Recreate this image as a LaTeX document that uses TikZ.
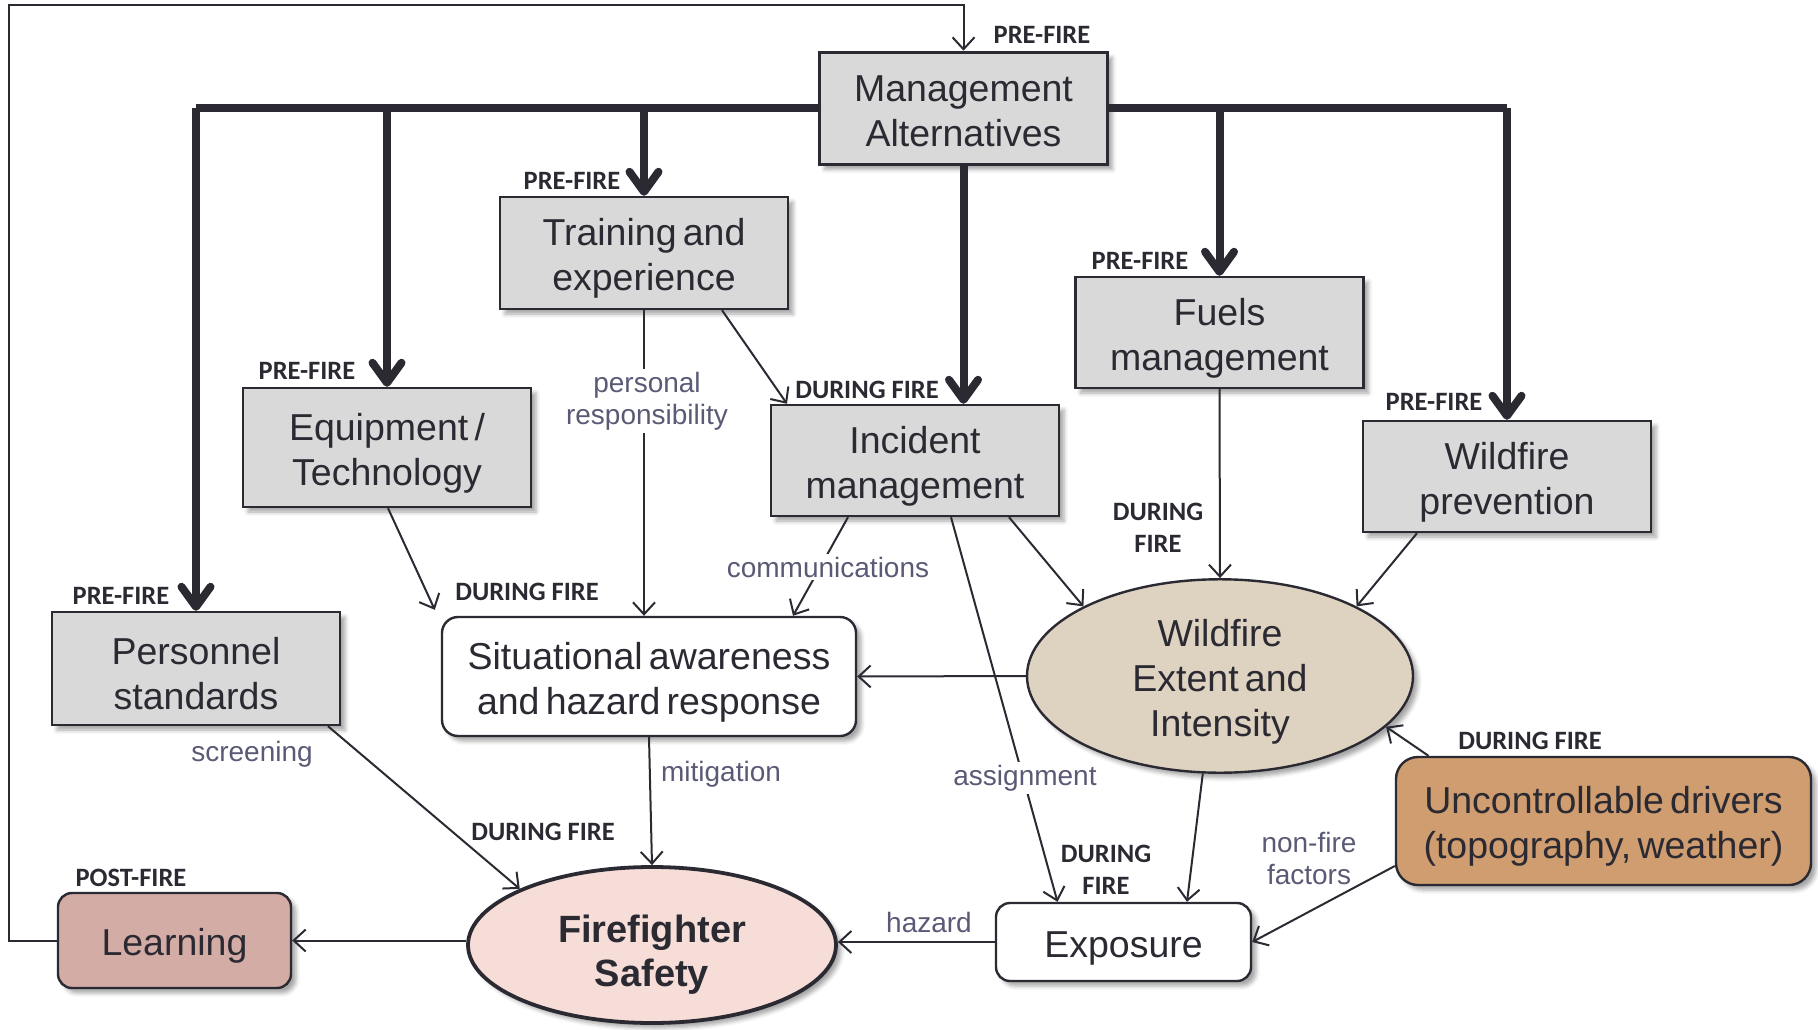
\documentclass[tikz,border=0pt]{standalone}
\usepackage{fontspec}
\setmainfont{Liberation Sans}[WordSpace=0.6]
\newfontfamily\tagfont{Carlito}
\usetikzlibrary{arrows.meta,shapes.geometric,shadows.blur,calc}

\definecolor{ink}{RGB}{43,42,51}
\definecolor{boxgray}{RGB}{217,217,217}
\definecolor{fireclr}{RGB}{222,210,192}
\definecolor{drivers}{RGB}{207,157,111}
\definecolor{learnclr}{RGB}{212,172,166}
\definecolor{safetyclr}{RGB}{246,221,215}
\definecolor{lblgray}{RGB}{90,90,118}

% a tall strut on the first line sets a text block a little lower in its shape
\newcommand{\tallstrut}[1][38pt]{\rule{0pt}{#1}}

\begin{document}
\begin{tikzpicture}[x=1pt,y=-1pt,
  shade/.style={blur shadow={shadow xshift=5pt,shadow yshift=-5pt,shadow blur radius=4pt,shadow opacity=35}},
  box/.style={shade,draw=ink,line width=2.4pt,fill=boxgray,inner sep=0pt,text=ink,align=center,
    font=\fontsize{37.5}{45}\selectfont,minimum width=288pt,minimum height=112pt},
  rbox/.style={box,rounded corners=16pt,fill=white},
  oval/.style={shade,ellipse,draw=ink,line width=2.4pt,inner sep=0pt,text=ink,align=center,
    font=\fontsize{37.5}{45}\selectfont},
  tag/.style={font=\tagfont\bfseries\fontsize{26.5}{32}\selectfont,text=ink,align=center,inner sep=0pt},
  clab/.style={font=\fontsize{28}{32}\selectfont,text=lblgray,align=center,inner sep=3pt},
  feed/.style={draw=ink,line width=2pt,-{Straight Barb[length=12pt,width=22pt]}},
  main/.style={draw=ink,line width=8pt,line join=miter,-{Straight Barb[length=20pt,width=29pt,round]}},
  trunk/.style={draw=ink,line width=8pt,line join=miter}]

\useasboundingbox (0,0) rectangle (1818,1030);

% ---- boxes ----
\node[box,line width=3.5pt] (ma) at (963.5,108.5) {\tallstrut[32pt]Management\\Alternatives};
\node[box] (train) at (644,253) {\tallstrut Training and\\experience};
\node[box,minimum height=119pt] (equip) at (387,447.5) {\tallstrut Equipment\,/\\Technology};
\node[box,minimum height=113pt] (pers) at (196,668.5) {\tallstrut Personnel\\standards};
\node[box,minimum height=111pt] (inc) at (915,460.5) {\tallstrut Incident\\management};
\node[box,minimum height=111pt] (fuels) at (1219.5,332.5) {\tallstrut Fuels\\management};
\node[box,minimum height=111pt] (wp) at (1507,476.5) {\tallstrut Wildfire\\prevention};
\node[rbox,minimum width=414pt,minimum height=119pt] (sa) at (649,676.5)
  {\tallstrut Situational awareness\\and hazard response};
\node[oval,fill=fireclr,minimum width=386pt,minimum height=192pt] (wf) at (1220,676)
  {\tallstrut[39pt]Wildfire\\Extent and\\Intensity};
\node[rbox,fill=drivers,rounded corners=22pt,minimum width=415pt,minimum height=128pt] (unc)
  at (1603.5,821) {\tallstrut Uncontrollable drivers\\(topography, weather)};
\node[rbox,minimum width=255pt,minimum height=78pt,rounded corners=14pt] (exp) at (1123.5,942)
  {\tallstrut Exposure};
\node[oval,fill=safetyclr,line width=3.8pt,minimum width=368pt,minimum height=156pt,
  font=\bfseries\fontsize{38}{44}\selectfont] (ff) at (652,945) {\tallstrut[47pt]Firefighter\\Safety};
\node[rbox,fill=learnclr,minimum width=233pt,minimum height=95pt,rounded corners=14pt] (learn)
  at (174.5,940.5) {\tallstrut Learning};

% ---- management alternatives feeding each lever ----
\draw[trunk] (ma.west) -- (ma.west -| pers.north);
\draw[trunk] (ma.east) -- (ma.east -| wp.north);
\draw[main] (ma.west -| pers.north) -- (pers.north);
\draw[main] (ma.west -| equip.north) -- (equip.north);
\draw[main] (ma.west -| train.north) -- (train.north);
\draw[main] (ma.south) -- (ma.south |- inc.north);
\draw[main] (ma.east -| fuels.north) -- (fuels.north);
\draw[main] (ma.east -| wp.north) -- (wp.north);

% ---- feedback loop from learning ----
\coordinate (loop) at (9,5);
\draw[feed] (learn.west) -| (loop) -| (ma.north);

% ---- causal links ----
\draw[feed] (train.south) -- (train.south |- sa.north);
\draw[feed] ([xshift=78pt]train.south) -- ([xshift=-128pt]inc.north);
\coordinate (saentry) at ([xshift=-6pt,yshift=6pt]sa.north west);
\draw[feed] ([xshift=1pt]equip.south) -- (saentry);
\draw[feed] ([xshift=-67pt]inc.south) -- ([xshift=144pt]sa.north);
\draw[feed] ([xshift=36pt]inc.south) -- ([xshift=-66pt]exp.north);
\draw[feed] ([xshift=94pt]inc.south) -- (wf.153);
\draw[feed] (fuels.south) -- (wf.north);
\draw[feed] ([xshift=-90pt]wp.south) -- (wf.27);
\draw[feed] (wf.west) -- (sa.east);
\draw[feed] ([xshift=-175pt]unc.north) -- (wf.-17);
\draw[feed] ([yshift=-45pt]unc.west) -- (exp.east);
\draw[feed] (wf.-100) -- ([xshift=63.5pt]exp.north);
\draw[feed] (sa.south) -- (ff.north);
\draw[feed] ([xshift=132pt]pers.south) -- (ff.157);
\draw[feed] (exp.west) -- (exp.west -| ff.east);
\draw[feed] (learn.east -| ff.west) -- (learn.east);

% ---- link labels ----
\node[clab,fill=white] (lpr) at (647,401) {personal\\responsibility};
\node[clab,fill=white] (lcom) at (828,567) {communications};
\node[clab,fill=white] (lasg) at (1025,778) {assignment};
\node[clab] (lscr) at (252,754) {screening};
\node[clab] (lmit) at (721,774) {mitigation};
\node[clab] (lhaz) at (929,922) {hazard};
\node[clab] (lnf) at (1309,858) {non-fire\\factors};

% ---- phase tags ----
\node[tag] (t1) at (1042,35) {PRE-FIRE};
\node[tag] (t2) at (572,181) {PRE-FIRE};
\node[tag] (t3) at (307,371) {PRE-FIRE};
\node[tag] (t4) at (121,596) {PRE-FIRE};
\node[tag] (t5) at (1140,261) {PRE-FIRE};
\node[tag] (t6) at (1434,402) {PRE-FIRE};
\node[tag] (t7) at (867,390) {DURING FIRE};
\node[tag] (t8) at (527,592) {DURING FIRE};
\node[tag] (t9) at (543,832) {DURING FIRE};
\node[tag] (t10) at (1158,528) {DURING\\FIRE};
\node[tag] (t11) at (1106,870) {DURING\\FIRE};
\node[tag] (t12) at (1530,741) {DURING FIRE};
\node[tag] (t13) at (131,878) {POST-FIRE};
\end{tikzpicture}
\end{document}
